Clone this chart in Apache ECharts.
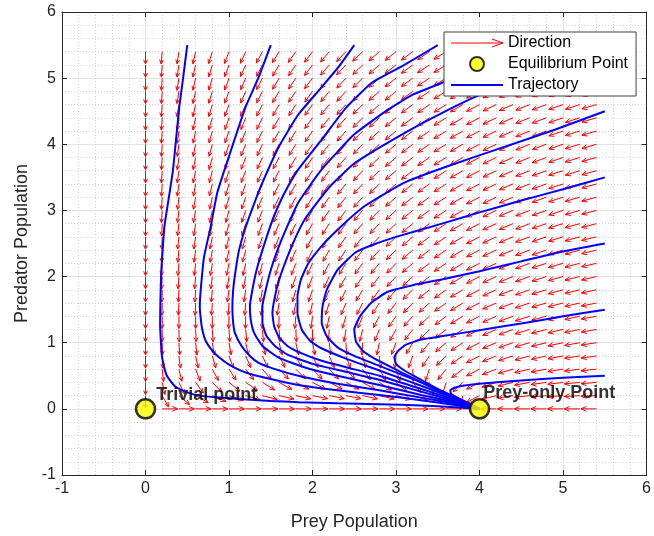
<!DOCTYPE html>
<html>
<head>
<meta charset="utf-8">
<script src="https://cdn.jsdelivr.net/npm/echarts@6/dist/echarts.min.js"></script>
<style>
  html, body { margin: 0; padding: 0; background: #ffffff; }
  #chart { width: 654px; height: 536px; }
</style>
</head>
<body>
<div id="chart"></div>
<script>
// Sample positions of the direction field (same list for both axes).
const gridX = [0, 0.2, 0.4, 0.6, 0.8, 1.0, 1.2, 1.4, 1.6, 1.8, 2.0, 2.2, 2.4, 2.6,
               2.8, 3.0, 3.2, 3.4, 3.6, 3.8, 4.0, 4.2, 4.4, 4.6, 4.8, 5.0, 5.2, 5.4];
const gridY = [0, 0.2, 0.4, 0.6, 0.8, 1.0, 1.2, 1.4, 1.6, 1.8, 2.0, 2.2, 2.4, 2.6,
               2.8, 3.0, 3.2, 3.4, 3.6, 3.8, 4.0, 4.2, 4.4, 4.6, 4.8, 5.0, 5.2, 5.4];

// Arrow heading along the y = 0 row, degrees below the +x direction (null: rest point, no arrow).
const baseRowAngles = [null, 0, 0, 0, 0, 0, 0, 0, 0, 0, 0, 0, 0, 0,
                       0, 0, 0, 0, 0, 0, null, 180, 180, 180, 180, 180, 180, 180];

// Arrow heading for rows y = 0.2 ... 5.4, one list per column of gridX,
// degrees below the +x direction (90 = straight down, 180 = pointing left).
const arrowAngles = [
  [90,90,90,90,90,90,90,90,90,90,90,90,90,90,90,90,90,90,90,90,90,90,90,90,90,90,90],
  [66,80,85,87,89,90,90,91,91,92,92,92,92,92,93,93,93,93,93,93,93,93,93,93,93,93,94],
  [47,69,79,84,87,89,90,92,92,93,94,94,95,95,95,95,96,96,96,96,96,96,97,97,97,97,97],
  [35,60,73,80,85,88,90,92,93,94,95,96,97,97,98,98,98,99,99,99,99,100,100,100,100,100,100],
  [28,52,67,77,83,87,90,93,94,96,97,98,99,99,100,100,101,101,102,102,102,103,103,103,103,103,104],
  [23,46,63,74,82,87,91,93,96,97,99,100,101,102,102,103,103,104,104,105,105,105,106,106,106,106,107],
  [20,41,59,71,80,86,91,94,97,99,100,102,103,104,105,105,106,107,107,108,108,108,109,109,109,110,110],
  [18,38,56,70,79,86,91,95,98,100,102,104,105,106,107,108,109,109,110,110,111,111,112,112,112,112,113],
  [16,35,53,68,79,87,92,97,100,102,104,106,108,109,110,111,111,112,113,113,114,114,114,115,115,115,116],
  [15,33,52,68,80,88,94,99,102,105,107,109,110,111,112,113,114,115,115,116,116,117,117,118,118,118,119],
  [14,33,52,69,81,90,96,101,105,107,110,111,113,114,115,116,117,118,118,119,119,120,120,120,121,121,121],
  [14,33,53,71,84,93,99,104,108,110,113,114,116,117,118,119,120,120,121,122,122,122,123,123,124,124,124],
  [14,33,55,74,87,97,103,108,111,114,116,118,119,120,121,122,123,123,124,125,125,125,126,126,126,127,127],
  [15,35,59,79,92,101,108,112,115,118,120,121,122,124,124,125,126,126,127,127,128,128,129,129,129,129,130],
  [16,39,65,86,99,107,113,117,120,122,123,125,126,127,128,128,129,130,130,130,131,131,131,132,132,132,132],
  [18,46,75,95,107,114,119,122,124,126,127,129,130,130,131,132,132,133,133,133,134,134,134,134,135,135,135],
  [21,57,88,106,115,121,125,127,129,130,132,132,133,134,134,135,135,136,136,136,136,137,137,137,137,137,137],
  [29,76,105,118,124,128,131,132,134,135,136,136,137,137,138,138,138,138,139,139,139,139,139,140,140,140,140],
  [48,104,122,129,133,135,136,138,138,139,140,140,140,140,141,141,141,141,142,142,142,142,142,142,142,142,142],
  [102,130,136,139,140,141,142,142,143,143,143,143,144,144,144,144,144,144,144,144,144,144,144,144,144,145,145],
  [147,147,147,147,147,147,147,147,147,147,147,147,147,147,147,147,147,147,147,147,147,147,147,147,147,147,147],
  [162,157,154,153,152,151,151,151,150,150,150,150,150,150,149,149,149,149,149,149,149,149,149,149,149,149,149],
  [168,163,160,158,156,155,155,154,154,153,153,153,152,152,152,152,152,151,151,151,151,151,151,151,151,151,151],
  [172,167,164,161,160,159,158,157,156,156,155,155,155,154,154,154,154,154,153,153,153,153,153,153,153,153,153],
  [174,170,167,164,163,162,161,160,159,158,158,157,157,157,156,156,156,156,155,155,155,155,155,155,154,154,154],
  [175,171,169,167,165,164,163,162,161,161,160,160,159,159,158,158,158,158,157,157,157,157,157,156,156,156,156],
  [176,173,171,169,167,166,165,164,163,163,162,161,161,161,160,160,160,159,159,159,159,158,158,158,158,158,158],
  [177,174,172,170,169,168,167,166,165,164,164,163,163,162,162,161,161,161,161,160,160,160,160,159,159,159,159]
];

// Trajectories started on the top edge (y = 5.5).
const trajTop1 = [[0.5,5.5],[0.45,5.0],[0.405,4.57],[0.36,4.0],[0.325,3.57],[0.28,3.2],[0.226,2.75],[0.2,2.3],
  [0.187,2.04],[0.178,1.6],[0.175,1.28],[0.185,1.0],[0.198,0.78],[0.246,0.53],[0.3,0.42],[0.365,0.33],
  [0.5,0.25],[0.64,0.2],[0.9,0.17],[1.12,0.15],[1.5,0.12],[1.83,0.10],[2.3,0.085],[2.8,0.07],[3.3,0.05],[3.7,0.025],[4,0]];
const trajTop2 = [[1.5,5.5],[1.35,5.0],[1.2,4.57],[1.1,4.2],[1.0,3.82],[0.86,3.27],[0.78,2.75],[0.7,2.29],
  [0.66,1.78],[0.65,1.55],[0.66,1.38],[0.68,1.2],[0.72,1.03],[0.8,0.88],[0.88,0.78],[1.0,0.67],[1.2,0.55],
  [1.5,0.45],[1.83,0.36],[2.3,0.28],[2.8,0.21],[3.3,0.13],[3.7,0.06],[4,0]];
const trajTop3 = [[2.5,5.5],[2.3,5.15],[2.1,4.85],[1.83,4.45],[1.6,3.97],[1.4,3.42],[1.3,3.1],[1.2,2.75],
  [1.12,2.4],[1.08,2.1],[1.05,1.8],[1.04,1.53],[1.05,1.3],[1.07,1.15],[1.15,0.95],[1.25,0.8],[1.35,0.7],
  [1.55,0.6],[1.83,0.5],[2.3,0.38],[2.8,0.28],[3.3,0.17],[3.7,0.08],[4,0]];
const trajTop4 = [[3.5,5.5],[3.1,5.2],[2.71,4.93],[2.4,4.55],[2.11,4.07],[1.83,3.62],[1.68,3.3],[1.55,2.95],
  [1.48,2.71],[1.4,2.4],[1.33,2.1],[1.28,1.8],[1.25,1.55],[1.26,1.35],[1.3,1.15],[1.4,0.95],[1.6,0.77],
  [1.9,0.63],[2.3,0.5],[2.8,0.36],[3.3,0.21],[3.7,0.1],[4,0]];
const trajTop5 = [[4.5,5.5],[4.0,5.22],[3.55,4.93],[3.2,4.75],[2.9,4.52],[2.5,4.15],[2.11,3.62],[1.83,3.12],
  [1.68,2.71],[1.58,2.4],[1.5,2.1],[1.44,1.8],[1.4,1.55],[1.4,1.3],[1.45,1.1],[1.55,0.95],[1.7,0.82],
  [2.0,0.68],[2.4,0.56],[2.8,0.44],[3.3,0.26],[3.7,0.12],[4,0]];
const trajTop6 = [[5.5,5.5],[4.8,5.15],[4.01,4.75],[3.56,4.48],[3.1,4.17],[2.51,3.72],[2.2,3.35],[1.91,2.87],
  [1.8,2.6],[1.7,2.3],[1.6,1.95],[1.55,1.7],[1.52,1.45],[1.54,1.25],[1.6,1.08],[1.7,0.95],[1.85,0.85],
  [2.1,0.73],[2.4,0.63],[2.8,0.5],[3.3,0.3],[3.7,0.14],[4,0]];

// Trajectories started on the right edge (x = 5.5).
const trajRight1 = [[5.5,4.5],[4.9,4.22],[4.27,3.95],[3.6,3.66],[3.1,3.42],[2.63,3.07],[2.37,2.79],[2.1,2.45],
  [1.95,2.2],[1.86,1.95],[1.82,1.7],[1.82,1.45],[1.87,1.2],[1.97,1.03],[2.1,0.92],[2.4,0.76],[2.8,0.58],
  [3.3,0.35],[3.7,0.16],[4,0]];
const trajRight2 = [[5.5,3.5],[5.0,3.32],[4.5,3.15],[4.0,2.97],[3.55,2.8],[3.0,2.6],[2.7,2.47],[2.51,2.36],
  [2.3,2.1],[2.17,1.8],[2.12,1.55],[2.11,1.3],[2.17,1.1],[2.3,0.93],[2.5,0.8],[2.8,0.65],[3.3,0.4],[3.7,0.18],[4,0]];
const trajRight3 = [[5.5,2.5],[5.0,2.38],[4.5,2.23],[4.0,2.08],[3.56,1.96],[3.2,1.87],[2.9,1.77],[2.7,1.6],
  [2.57,1.4],[2.5,1.2],[2.52,1.02],[2.6,0.88],[2.8,0.72],[3.1,0.53],[3.4,0.34],[3.7,0.17],[4,0]];
const trajRight4 = [[5.5,1.5],[5.0,1.4],[4.5,1.29],[4.0,1.19],[3.56,1.1],[3.3,1.05],[3.12,0.97],[3.02,0.87],
  [2.98,0.78],[3.0,0.68],[3.1,0.58],[3.3,0.44],[3.55,0.27],[3.8,0.12],[4,0]];
const trajRight5 = [[5.5,0.5],[5.0,0.47],[4.5,0.43],[4.0,0.38],[3.8,0.35],[3.7,0.32],[3.65,0.28],[3.66,0.23],
  [3.75,0.16],[3.88,0.08],[4,0]];

// Equilibria and their captions.
const equilibria = [[0, 0], [4, 0]];
const equilibriumNames = ['Trivial point', 'Prey-only Point'];

const axisTicks = [-1, 0, 1, 2, 3, 4, 5, 6];

const trajectories = [trajTop1, trajTop2, trajTop3, trajTop4, trajTop5, trajTop6,
                      trajRight1, trajRight2, trajRight3, trajRight4, trajRight5];

// Flatten the field into [x, y, angle] items.
const arrowData = [];
gridX.forEach((x, i) => {
  gridY.forEach((y, j) => {
    const a = j === 0 ? baseRowAngles[i] : arrowAngles[i][j - 1];
    if (a !== null) arrowData.push([x, y, a]);
  });
});

const ARROW_LEN = 0.185;     // arrow length in data units
const INK = '#262626';
const FONT = '"Liberation Sans", Arial, Helvetica, sans-serif';

function renderArrow(params, api) {
  const x = api.value(0), y = api.value(1);
  const phi = api.value(2) * Math.PI / 180;
  const p0 = api.coord([x, y]);
  const p1 = api.coord([x + ARROW_LEN * Math.cos(phi), y - ARROW_LEN * Math.sin(phi)]);
  const dx = p1[0] - p0[0], dy = p1[1] - p0[1];
  const len = Math.sqrt(dx * dx + dy * dy) || 1;
  const ux = dx / len, uy = dy / len;
  const h = len * 0.34, w = h * 0.45;
  const bx = p1[0] - ux * h, by = p1[1] - uy * h;
  return {
    type: 'group',
    children: [
      { type: 'line', shape: { x1: p0[0], y1: p0[1], x2: p1[0], y2: p1[1] },
        style: { stroke: '#ff0000', lineWidth: 1 } },
      { type: 'polyline', shape: { points: [[bx - uy * w, by + ux * w], p1, [bx + uy * w, by - ux * w]] },
        style: { stroke: '#ff0000', fill: null, lineWidth: 1 } }
    ]
  };
}

function mainAxis(name, isX) {
  return {
    type: 'value', min: axisTicks[0], max: axisTicks[axisTicks.length - 1], interval: 1,
    position: isX ? 'bottom' : 'left',
    name: name, nameLocation: 'middle', nameGap: isX ? 38 : 31,
    nameTextStyle: { fontFamily: FONT, fontSize: 18, color: INK },
    axisLine: { show: true, onZero: false, lineStyle: { color: INK, width: 1 } },
    axisTick: { show: true, inside: true, length: 5, lineStyle: { color: INK, width: 1 } },
    axisLabel: { fontFamily: FONT, fontSize: 16, color: INK, margin: 6 },
    splitLine: { show: true, lineStyle: { color: '#e3e3e3', width: 1 } },
    minorTick: { show: false, splitNumber: 5 },
    minorSplitLine: { show: true, lineStyle: { color: '#d6d6d6', width: 1, type: [1, 2] } }
  };
}
function boxAxis(isX) {
  return {
    type: 'value', min: axisTicks[0], max: axisTicks[axisTicks.length - 1], interval: 1,
    position: isX ? 'top' : 'right',
    axisLine: { show: true, onZero: false, lineStyle: { color: INK, width: 1 } },
    axisTick: { show: true, inside: true, length: 5, lineStyle: { color: INK, width: 1 } },
    axisLabel: { show: false }, splitLine: { show: false }
  };
}

const chart = echarts.init(document.getElementById('chart'), null, { renderer: 'canvas' });

const series = [
  {
    name: 'Direction', type: 'custom', renderItem: renderArrow,
    data: arrowData, encode: { x: 0, y: 1 }, silent: true, z: 2,
    itemStyle: { color: '#ff0000' }
  }
];
trajectories.forEach((t) => {
  series.push({
    name: 'Trajectory', type: 'line', data: t, showSymbol: false, symbol: 'none',
    smooth: 0.15, silent: true, z: 3,
    lineStyle: { color: '#0000ff', width: 2 }, itemStyle: { color: '#0000ff' }
  });
});
series.push({
  name: 'Equilibrium Point', type: 'scatter', z: 5, silent: true,
  symbol: 'circle', symbolSize: 19,
  itemStyle: { color: '#ffff00', borderColor: '#000000', borderWidth: 2.5 },
  data: equilibria.map((p, k) => ({
    value: p, name: equilibriumNames[k],
    label: {
      show: true, formatter: '{b}', position: 'right',
      offset: k === 0 ? [-5, -14] : [-12, -16],
      fontFamily: FONT, fontSize: 18, fontWeight: 'bold', color: '#000000'
    }
  }))
});

chart.setOption({
  animation: false,
  backgroundColor: '#ffffff',
  grid: { left: 62, right: 4, top: 12, bottom: 60, containLabel: false },
  xAxis: [mainAxis('Prey Population', true), boxAxis(true)],
  yAxis: [mainAxis('Predator Population', false), boxAxis(false)],
  legend: {
    orient: 'vertical', left: 444, top: 32,
    backgroundColor: '#ffffff', borderColor: '#404040', borderWidth: 1,
    padding: [3, 8, 3, 6], itemGap: 5, itemWidth: 52, itemHeight: 14,
    textStyle: { fontFamily: FONT, fontSize: 16, color: '#000000' },
    selectedMode: false,
    data: [
      { name: 'Direction', icon: 'path://M0,0 M0,7 L52,7 M41,3 L52,7 L41,11 M52,14',
        itemStyle: { color: 'rgba(0,0,0,0)', borderColor: '#ff0000', borderWidth: 1 } },
      { name: 'Equilibrium Point', icon: 'circle',
        itemStyle: { color: '#ffff00', borderColor: '#000000', borderWidth: 2 } },
      { name: 'Trajectory', icon: 'path://M0,0 M0,7 L52,7 M52,14',
        itemStyle: { color: 'rgba(0,0,0,0)', borderColor: '#0000ff', borderWidth: 2 } }
    ]
  },
  series: series
});
</script>
</body>
</html>
